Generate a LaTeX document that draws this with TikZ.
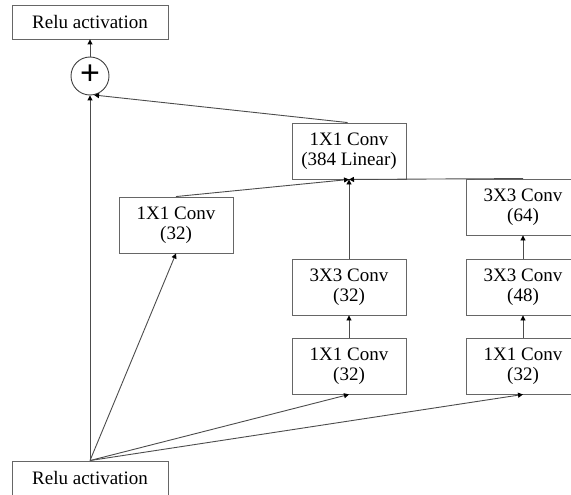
\documentclass[tikz,border=0pt]{standalone}
\usepackage{fontspec}
\setmainfont{Liberation Serif}
\newfontfamily\plusfont{Liberation Sans}
\usetikzlibrary{arrows.meta}
\begin{document}
\begin{tikzpicture}[x=1pt,y=-1pt,
  box/.style={draw=black!60, line width=0.9pt, minimum width=114pt, minimum height=56pt,
    inner sep=0pt, align=center, font=\fontsize{19}{20.5}\selectfont},
  relubox/.style={box, minimum width=156pt, minimum height=34pt},
  link/.style={draw=black!70, line width=0.9pt, -{Triangle[length=5pt,width=5pt,fill=black,color=black]}}]
\useasboundingbox (0,0) rectangle (571,495);
\clip (0,0) rectangle (571,495);

% output side
\node[relubox] (out) at (90,22) {Relu activation};
\node[circle, draw=black!75, line width=0.9pt, minimum size=38pt, inner sep=0pt] (sum) at (90,76) {};
\node[font=\plusfont\fontsize{34}{34}\selectfont, inner sep=0pt] (plus) at (90,75) {+};

% combining convolution
\node[box] (lin) at (349,151) {1X1 Conv\\(384 Linear)};

% branch 1
\node[box] (a1) at (176,225) {1X1 Conv\\(32)};

% branch 2
\node[box] (b3) at (349,287) {3X3 Conv\\(32)};
\node[box] (b1) at (349,366) {1X1 Conv\\(32)};

% branch 3
\node[box] (c64) at (523,207) {3X3 Conv\\(64)};
\node[box] (c48) at (523,287) {3X3 Conv\\(48)};
\node[box] (c1) at (523,366) {1X1 Conv\\(32)};

% input
\node[relubox] (in) at (90,478) {Relu activation};

% connectors
\draw[link] (sum.north) -- (out.south);
\draw[link] (in.north) -- (sum.south);
\draw[link] (lin.north west) ++(56,0) coordinate (linTop) (linTop) -- (sum.-78);
\draw[link] (in.north) -- (a1.south);
\draw[link] (in.north) -- (b1.south);
\draw[link] (in.north) -- (c1.south);
\draw[link] (b1.north) -- (b3.south);
\draw[link] (c1.north) -- (c48.south);
\draw[link] (c48.north) -- (c64.south);
\draw[link] (a1.north) -- (lin.south);
\draw[link] (b3.north) -- (lin.south);
\draw[link] (c64.north) -- (lin.south);
\end{tikzpicture}
\end{document}
